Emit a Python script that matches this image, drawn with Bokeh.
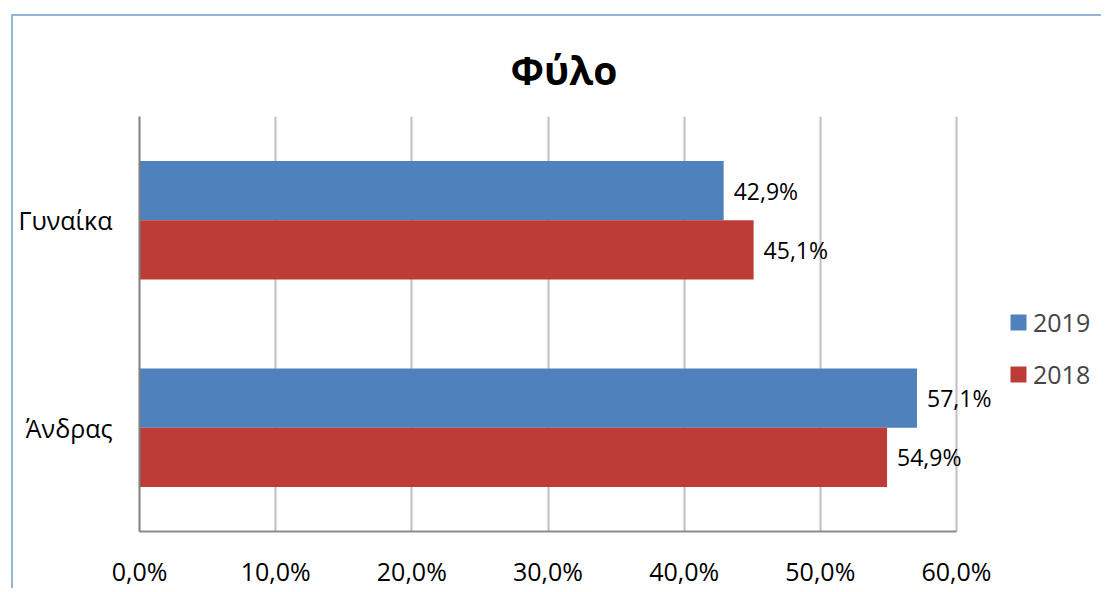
from bokeh.plotting import figure
from bokeh.models import Range1d, FactorRange, FixedTicker, ColumnDataSource, LabelSet, Legend, LegendItem
from bokeh.transform import dodge
from bokeh.core.properties import value
from bokeh.embed import file_html
from bokeh.resources import INLINE

# ---- data ----
categories = ["Άνδρας", "Γυναίκα"]          # bottom -> top
values_2019 = [0.571, 0.429]
values_2018 = [0.549, 0.451]
series_names = ["2019", "2018"]
xticks = [0, 0.1, 0.2, 0.3, 0.4, 0.5, 0.6]
xtick_labels = ["0,0%", "10,0%", "20,0%", "30,0%", "40,0%", "50,0%", "60,0%"]

def pct(v):
    return f"{v*100:.1f}".replace(".", ",") + "%"

BLUE = "#4F81BD"
RED = "#BE3C37"
FONT = "Open Sans"

src = ColumnDataSource(dict(
    cat=categories,
    v2019=values_2019,
    v2018=values_2018,
    l2019=[pct(v) for v in values_2019],
    l2018=[pct(v) for v in values_2018],
))

# axis drawn to 0.6; frame extends further right to hold labels and legend
x_end = 0.6 * 964 / 817

p = figure(
    width=1090, height=574,
    x_range=Range1d(0, x_end),
    y_range=FactorRange(factors=categories, range_padding=0),
    output_backend="svg", toolbar_location=None,
    min_border_left=126, min_border_right=0, min_border_top=100, min_border_bottom=58,
)
p.styles = {
    "margin-left": "11px", "margin-top": "14px",
    "border-left": "2px solid #95B3D7", "border-top": "2px solid #95B3D7",
}
p.outline_line_color = None
p.background_fill_color = "white"
p.border_fill_color = "white"

bh = 0.286
off = 0.143
r19 = p.hbar(y=dodge("cat", off, range=p.y_range), right="v2019", height=bh, left=0,
             source=src, fill_color=BLUE, line_color=None)
r18 = p.hbar(y=dodge("cat", -off, range=p.y_range), right="v2018", height=bh, left=0,
             source=src, fill_color=RED, line_color=None)

for col, o in (("2019", off), ("2018", -off)):
    p.add_layout(LabelSet(x="v" + col, y=dodge("cat", o, range=p.y_range), text="l" + col,
                          source=src, x_offset=10, text_align="left", text_baseline="middle",
                          text_font=value(FONT), text_font_size="23px", text_color="black"))

# title
p.title.text = "Φύλο"
p.title.text_font = FONT
p.title.text_font_style = "bold"
p.title.text_font_size = "39px"
p.title.text_color = "black"
p.title.align = "left"
p.title.offset = 371
p.title.standoff = 42

# x axis
p.xaxis.ticker = FixedTicker(ticks=xticks)
p.xaxis.major_label_overrides = dict(zip(xticks, xtick_labels))
p.xaxis.bounds = (0, 0.6)
p.xaxis.major_label_text_font = FONT
p.xaxis.major_label_text_font_size = "25px"
p.xaxis.major_label_text_color = "black"
p.xaxis.major_label_standoff = 16
p.xaxis.major_tick_line_color = None
p.xaxis.minor_tick_line_color = None
p.xaxis.axis_line_color = "#898989"
p.xaxis.axis_line_width = 2

# y axis
p.yaxis.major_label_text_font = FONT
p.yaxis.major_label_text_font_size = "25px"
p.yaxis.major_label_text_color = "black"
p.yaxis.major_label_standoff = 21
p.yaxis.major_tick_line_color = None
p.yaxis.minor_tick_line_color = None
p.yaxis.axis_line_color = "#7F7F7F"
p.yaxis.axis_line_width = 2

p.xgrid.grid_line_color = "#BFBFBF"
p.xgrid.grid_line_width = 2
p.ygrid.grid_line_color = None

legend = Legend(items=[LegendItem(label=series_names[0], renderers=[r19]),
                       LegendItem(label=series_names[1], renderers=[r18])],
                location=(869, 140), orientation="vertical",
                glyph_width=20, glyph_height=20, label_standoff=5,
                label_text_font=FONT, label_text_font_size="25px", label_height=32,
                spacing=18, padding=0, margin=0,
                border_line_color=None, background_fill_alpha=0)
p.add_layout(legend, "center")

open("out.html", "w").write(file_html(p, INLINE))
